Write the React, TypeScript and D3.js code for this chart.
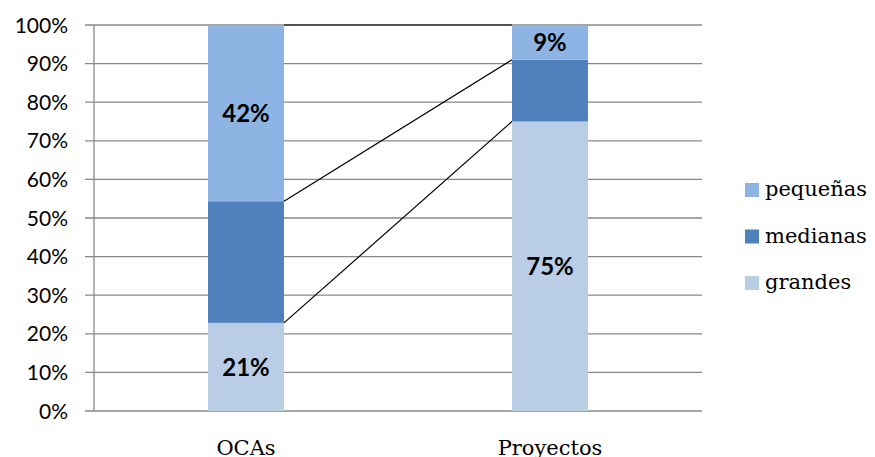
import React from "react";
import * as d3 from "d3";

const categories = ["OCAs", "Proyectos"];
const seriesNames = ["grandes", "medianas", "pequeñas"];
const grandes = [21, 75];
const medianas = [29, 16];
const pequenas = [42, 9];
const yTicks = [0, 0.1, 0.2, 0.3, 0.4, 0.5, 0.6, 0.7, 0.8, 0.9, 1];
const labelShown = [
  [true, true],
  [false, false],
  [true, true],
];
const colors = ["#B9CDE5", "#4F81BD", "#8EB4E3"];

const W = 875, H = 457;
const left = 94, right = 702, top = 25, bottom = 411;

export default function App() {
  const x = d3.scaleBand().domain(categories).range([left, right]).paddingInner(0).paddingOuter(0);
  const y = d3.scaleLinear().domain([0, 1]).range([bottom, top]);
  const barW = 76;
  const rows = categories.map((c, i) => {
    const obj: any = { cat: c };
    const vals = [grandes[i], medianas[i], pequenas[i]];
    const sum = d3.sum(vals);
    seriesNames.forEach((s, j) => (obj[s] = vals[j] / sum));
    return obj;
  });
  const stack = d3.stack().keys(seriesNames)(rows as any);
  const raw = [grandes, medianas, pequenas];
  const tickFont = "Lato, 'Open Sans', sans-serif";
  const serif = "'DejaVu Serif', 'Liberation Serif', serif";
  return (
    <svg width={W} height={H} style={{ position: "absolute", left: 0, top: 0, background: "#fff" }}>
      {yTicks.map((t) => (
        <g key={t}>
          <line x1={85} x2={right} y1={y(t)} y2={y(t)} stroke="#888" strokeWidth={1.3} />
          <text x={68} y={y(t)} dy="0.36em" textAnchor="end" fontFamily={tickFont} fontSize={21} fill="#000">
            {Math.round(t * 100) + "%"}
          </text>
        </g>
      ))}
      <line x1={left} x2={left} y1={top} y2={bottom} stroke="#888" strokeWidth={1.3} />
      {stack.map((layer, j) =>
        layer.map((d, i) => {
          const cx = (x(categories[i]) as number) + x.bandwidth() / 2;
          return (
            <rect key={j + "-" + i} x={cx - barW / 2} width={barW} y={y(d[1])} height={y(d[0]) - y(d[1])} fill={colors[j]} />
          );
        })
      )}
      {stack.map((layer, j) => {
        const c0 = (x(categories[0]) as number) + x.bandwidth() / 2 + barW / 2;
        const c1 = (x(categories[1]) as number) + x.bandwidth() / 2 - barW / 2;
        return <line key={"sl" + j} x1={c0} x2={c1} y1={y(layer[0][1])} y2={y(layer[1][1])} stroke="#000" strokeWidth={1.2} />;
      })}
      {stack.map((layer, j) =>
        layer.map((d, i) => {
          if (!labelShown[j][i]) return null;
          const cx = (x(categories[i]) as number) + x.bandwidth() / 2;
          return (
            <text key={"l" + j + i} x={cx} y={(y(d[0]) + y(d[1])) / 2} dy="0.36em" textAnchor="middle" fontFamily={tickFont} fontWeight="bold" fontSize={24} fill="#000">
              {raw[j][i] + "%"}
            </text>
          );
        })
      )}
      {categories.map((c) => (
        <text key={c} x={(x(c) as number) + x.bandwidth() / 2} y={455} textAnchor="middle" fontFamily={serif} fontSize={21} fill="#000">
          {c}
        </text>
      ))}
      {[2, 1, 0].map((j, k) => (
        <g key={"lg" + j} transform={`translate(745, ${190 + k * 46.5})`}>
          <rect x={0} y={-7} width={14} height={14} fill={colors[j]} />
          <text x={20} y={0} dy="0.3em" fontFamily={serif} fontSize={21} fill="#000">
            {seriesNames[j]}
          </text>
        </g>
      ))}
    </svg>
  );
}
